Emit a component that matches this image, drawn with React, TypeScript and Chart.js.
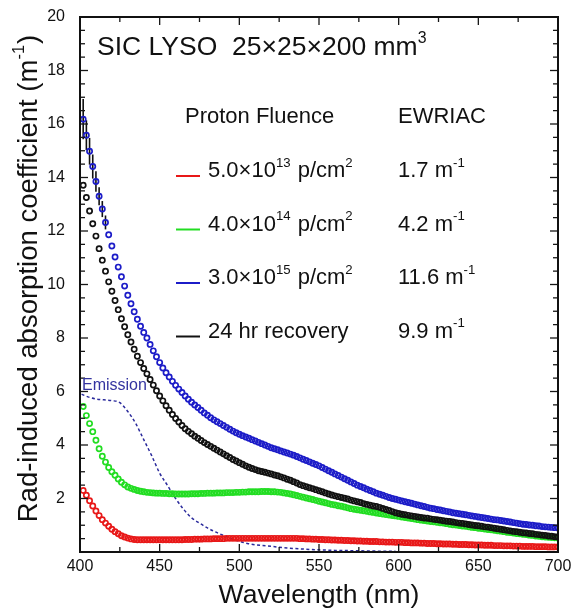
import { useEffect, useRef } from "react";
import { Chart, registerables } from "chart.js";

Chart.register(...registerables);

const FONT = "'Liberation Sans', Arial, Helvetica, sans-serif";

// Wavelength grid (nm) of the measured points
const wavelengths = [
  402, 404, 406, 408, 410, 412, 414, 416, 418, 420,
  422, 424, 426, 428, 430, 432, 434, 436, 438, 440,
  442, 444, 446, 448, 450, 452, 454, 456, 458, 460,
  462, 464, 466, 468, 470, 472, 474, 476, 478, 480,
  482, 484, 486, 488, 490, 492, 494, 496, 498, 500,
  502, 504, 506, 508, 510, 512, 514, 516, 518, 520,
  522, 524, 526, 528, 530, 532, 534, 536, 538, 540,
  542, 544, 546, 548, 550, 552, 554, 556, 558, 560,
  562, 564, 566, 568, 570, 572, 574, 576, 578, 580,
  582, 584, 586, 588, 590, 592, 594, 596, 598, 600,
  602, 604, 606, 608, 610, 612, 614, 616, 618, 620,
  622, 624, 626, 628, 630, 632, 634, 636, 638, 640,
  642, 644, 646, 648, 650, 652, 654, 656, 658, 660,
  662, 664, 666, 668, 670, 672, 674, 676, 678, 680,
  682, 684, 686, 688, 690, 692, 694, 696, 698, 700,
];

// 5.0e13 p/cm2
const redRIAC = [
  2.30, 2.12, 1.92, 1.72, 1.53, 1.36, 1.21, 1.08, 0.96, 0.85,
  0.76, 0.68, 0.61, 0.56, 0.52, 0.49, 0.47, 0.46, 0.46, 0.46,
  0.46, 0.46, 0.46, 0.46, 0.46, 0.46, 0.46, 0.46, 0.46, 0.46,
  0.46, 0.46, 0.47, 0.47, 0.47, 0.48, 0.48, 0.48, 0.49, 0.49,
  0.49, 0.50, 0.50, 0.50, 0.50, 0.51, 0.51, 0.51, 0.51, 0.51,
  0.51, 0.51, 0.51, 0.51, 0.51, 0.51, 0.51, 0.51, 0.51, 0.51,
  0.51, 0.51, 0.51, 0.51, 0.51, 0.51, 0.51, 0.51, 0.50, 0.50,
  0.49, 0.49, 0.48, 0.48, 0.47, 0.47, 0.46, 0.46, 0.45, 0.45,
  0.44, 0.44, 0.43, 0.43, 0.42, 0.42, 0.41, 0.41, 0.40, 0.40,
  0.39, 0.39, 0.39, 0.38, 0.38, 0.37, 0.37, 0.37, 0.36, 0.36,
  0.36, 0.35, 0.35, 0.34, 0.34, 0.34, 0.33, 0.33, 0.32, 0.32,
  0.32, 0.31, 0.31, 0.30, 0.30, 0.30, 0.29, 0.29, 0.28, 0.28,
  0.28, 0.27, 0.27, 0.26, 0.26, 0.26, 0.25, 0.25, 0.25, 0.24,
  0.24, 0.24, 0.23, 0.23, 0.23, 0.22, 0.22, 0.22, 0.21, 0.21,
  0.21, 0.21, 0.20, 0.20, 0.20, 0.20, 0.19, 0.19, 0.19, 0.19,
];

// 4.0e14 p/cm2
const greenRIAC = [
  5.44, 5.10, 4.80, 4.50, 4.18, 3.86, 3.58, 3.36, 3.16, 3.00,
  2.87, 2.73, 2.61, 2.51, 2.43, 2.38, 2.34, 2.30, 2.27, 2.25,
  2.23, 2.22, 2.21, 2.20, 2.20, 2.19, 2.19, 2.18, 2.18, 2.17,
  2.17, 2.17, 2.17, 2.17, 2.18, 2.18, 2.18, 2.19, 2.19, 2.20,
  2.20, 2.20, 2.21, 2.21, 2.21, 2.22, 2.22, 2.22, 2.23, 2.23,
  2.24, 2.24, 2.25, 2.25, 2.25, 2.25, 2.26, 2.26, 2.26, 2.25,
  2.25, 2.24, 2.23, 2.21, 2.19, 2.17, 2.14, 2.11, 2.08, 2.05,
  2.02, 1.99, 1.96, 1.93, 1.90, 1.87, 1.84, 1.81, 1.78, 1.76,
  1.73, 1.71, 1.68, 1.65, 1.62, 1.60, 1.58, 1.56, 1.54, 1.52,
  1.50, 1.48, 1.46, 1.44, 1.42, 1.40, 1.38, 1.36, 1.35, 1.33,
  1.31, 1.29, 1.27, 1.25, 1.23, 1.21, 1.19, 1.18, 1.16, 1.14,
  1.13, 1.11, 1.09, 1.08, 1.06, 1.04, 1.02, 1.01, 0.99, 0.97,
  0.96, 0.94, 0.92, 0.91, 0.89, 0.88, 0.86, 0.84, 0.83, 0.81,
  0.79, 0.78, 0.76, 0.74, 0.73, 0.71, 0.69, 0.68, 0.66, 0.65,
  0.63, 0.62, 0.60, 0.59, 0.57, 0.56, 0.55, 0.54, 0.53, 0.52,
];

// 3.0e15 p/cm2
const blueRIAC = [
  16.18, 15.58, 14.98, 14.41, 13.85, 13.30, 12.82, 12.32, 11.86, 11.44,
  11.03, 10.65, 10.29, 9.94, 9.60, 9.28, 8.98, 8.70, 8.44, 8.21,
  8.00, 7.76, 7.52, 7.30, 7.08, 6.88, 6.70, 6.54, 6.38, 6.23,
  6.09, 5.96, 5.83, 5.71, 5.60, 5.50, 5.40, 5.30, 5.20, 5.11,
  5.02, 4.94, 4.87, 4.80, 4.73, 4.66, 4.59, 4.52, 4.46, 4.40,
  4.35, 4.30, 4.25, 4.20, 4.15, 4.10, 4.05, 4.00, 3.95, 3.90,
  3.86, 3.82, 3.78, 3.74, 3.70, 3.66, 3.62, 3.57, 3.52, 3.47,
  3.42, 3.37, 3.32, 3.27, 3.22, 3.16, 3.10, 3.04, 2.98, 2.92,
  2.86, 2.80, 2.74, 2.68, 2.62, 2.56, 2.50, 2.45, 2.40, 2.35,
  2.30, 2.25, 2.20, 2.16, 2.12, 2.08, 2.04, 2.00, 1.97, 1.94,
  1.91, 1.88, 1.85, 1.82, 1.79, 1.76, 1.73, 1.70, 1.67, 1.64,
  1.62, 1.59, 1.57, 1.54, 1.52, 1.50, 1.47, 1.45, 1.43, 1.41,
  1.39, 1.37, 1.35, 1.33, 1.31, 1.29, 1.27, 1.25, 1.23, 1.21,
  1.20, 1.18, 1.16, 1.14, 1.12, 1.10, 1.08, 1.06, 1.04, 1.03,
  1.01, 1.00, 0.98, 0.97, 0.95, 0.94, 0.93, 0.92, 0.91, 0.90,
];
// error bar half-lengths of the first blue points
const blueErr = [0.75, 0.56, 0.5, 0.45, 0.38, 0.34, 0.3, 0.26];

// 24 hr recovery
const blackRIAC = [
  13.71, 13.25, 12.75, 12.27, 11.81, 11.34, 10.91, 10.50, 10.10, 9.75,
  9.40, 9.06, 8.72, 8.42, 8.12, 7.85, 7.58, 7.32, 7.08, 6.86,
  6.66, 6.45, 6.24, 6.03, 5.83, 5.65, 5.47, 5.30, 5.14, 4.99,
  4.86, 4.73, 4.61, 4.51, 4.42, 4.33, 4.25, 4.17, 4.09, 4.02,
  3.95, 3.88, 3.81, 3.74, 3.67, 3.60, 3.53, 3.46, 3.40, 3.34,
  3.28, 3.22, 3.17, 3.12, 3.08, 3.04, 3.01, 2.98, 2.95, 2.92,
  2.88, 2.85, 2.81, 2.77, 2.72, 2.68, 2.63, 2.58, 2.52, 2.48,
  2.44, 2.40, 2.37, 2.33, 2.29, 2.25, 2.21, 2.17, 2.13, 2.10,
  2.07, 2.04, 2.01, 1.98, 1.94, 1.91, 1.88, 1.85, 1.81, 1.78,
  1.75, 1.72, 1.70, 1.67, 1.63, 1.59, 1.55, 1.51, 1.47, 1.44,
  1.41, 1.39, 1.37, 1.35, 1.33, 1.31, 1.29, 1.27, 1.26, 1.24,
  1.22, 1.21, 1.19, 1.17, 1.15, 1.14, 1.12, 1.10, 1.08, 1.07,
  1.05, 1.03, 1.01, 0.99, 0.98, 0.96, 0.94, 0.93, 0.91, 0.89,
  0.87, 0.85, 0.83, 0.81, 0.79, 0.77, 0.76, 0.74, 0.72, 0.71,
  0.69, 0.68, 0.66, 0.65, 0.63, 0.62, 0.60, 0.59, 0.57, 0.56,
];

// LYSO emission spectrum (arbitrary scale)
const emissionWl = [
  401, 405, 410, 415, 420, 425, 430, 435, 440, 445, 450, 455, 460, 465, 470,
  475, 480, 485, 490, 495, 500, 505, 510, 520, 530, 540, 550, 560, 570, 580, 590, 598,
];
const emissionVal = [
  5.90, 5.80, 5.72, 5.69, 5.66, 5.58, 5.25, 4.80, 4.20, 3.60, 2.95, 2.48, 2.00, 1.60, 1.28,
  1.08, 0.90, 0.75, 0.62, 0.50, 0.40, 0.32, 0.27, 0.21, 0.15, 0.11, 0.08, 0.06, 0.05, 0.04, 0.03, 0.03,
];

const seriesColors = ["#e81818", "#22dd22", "#1c1cc8", "#111111"];
const fluenceMantissa = ["5.0", "4.0", "3.0"];
const fluenceExponent = ["13", "14", "15"];
const recoveryLabel = "24 hr recovery";
const ewriacValues = ["1.7", "4.2", "11.6", "9.9"];

const xMajorTicks = [400, 450, 500, 550, 600, 650, 700];
const xMinorTicks = [425, 475, 525, 575, 625, 675];

type Run = { t: string; sup?: boolean };

function runsWidth(ctx: CanvasRenderingContext2D, runs: Run[], size: number) {
  let w = 0;
  for (const r of runs) {
    ctx.font = `${r.sup ? size * 0.6 : size}px ${FONT}`;
    w += ctx.measureText(r.t).width;
  }
  return w;
}

function drawRuns(ctx: CanvasRenderingContext2D, x: number, y: number, runs: Run[], size: number) {
  let cx = x;
  for (const r of runs) {
    const s = r.sup ? size * 0.6 : size;
    ctx.font = `${s}px ${FONT}`;
    ctx.fillText(r.t, cx, r.sup ? y - size * 0.46 : y);
    cx += ctx.measureText(r.t).width + (r.sup ? 1 : 0);
  }
}

const decorPlugin = {
  id: "decor",
  beforeDatasetsDraw(chart: any) {
    const ctx: CanvasRenderingContext2D = chart.ctx;
    const xs = chart.scales.x;
    const ys = chart.scales.y;
    ctx.save();
    ctx.strokeStyle = "#111";
    ctx.lineWidth = 1.6;
    blueErr.forEach((e, i) => {
      const px = xs.getPixelForValue(wavelengths[i]);
      ctx.beginPath();
      ctx.moveTo(px, ys.getPixelForValue(blueRIAC[i] + e));
      ctx.lineTo(px, ys.getPixelForValue(blueRIAC[i] - e));
      ctx.stroke();
    });
    ctx.restore();
  },
  afterDatasetsDraw(chart: any) {
    const ctx: CanvasRenderingContext2D = chart.ctx;
    const { left, right, top, bottom } = chart.chartArea;
    const xs = chart.scales.x;
    const ys = chart.scales.y;
    ctx.save();
    ctx.strokeStyle = "#161616";
    ctx.lineWidth = 1.3;
    const tick = (x1: number, y1: number, x2: number, y2: number) => {
      ctx.beginPath();
      ctx.moveTo(x1, y1);
      ctx.lineTo(x2, y2);
      ctx.stroke();
    };
    for (const v of xMajorTicks) {
      const p = xs.getPixelForValue(v);
      tick(p, bottom, p, bottom - 8);
      tick(p, top, p, top + 8);
    }
    for (const v of xMinorTicks) {
      const p = xs.getPixelForValue(v);
      tick(p, bottom, p, bottom - 5);
      tick(p, top, p, top + 5);
    }
    for (let k = 1; k < 40; k++) {
      const v = k * 0.5;
      const p = ys.getPixelForValue(v);
      const len = k % 4 === 0 ? 8 : 5;
      tick(left, p, left + len, p);
      tick(right, p, right - len, p);
    }
    ctx.lineWidth = 2;
    ctx.strokeStyle = "#111";
    ctx.strokeRect(left, top, right - left, bottom - top);
    ctx.restore();
  },
  afterDraw(chart: any) {
    const ctx: CanvasRenderingContext2D = chart.ctx;
    const { left, right } = chart.chartArea;
    ctx.save();
    ctx.textAlign = "left";
    ctx.textBaseline = "alphabetic";
    ctx.fillStyle = "#111";

    drawRuns(ctx, 97, 55, [{ t: "SIC LYSO  25×25×200 mm" }, { t: "3", sup: true }], 26.5);
    drawRuns(ctx, 185, 123, [{ t: "Proton Fluence" }], 22);
    drawRuns(ctx, 398, 123, [{ t: "EWRIAC" }], 22);

    const baselines = [177, 230.5, 284, 337.5];
    baselines.forEach((b, i) => {
      ctx.strokeStyle = seriesColors[i];
      ctx.lineWidth = 2;
      ctx.beginPath();
      ctx.moveTo(176, b - 1);
      ctx.lineTo(200, b - 1);
      ctx.stroke();
      ctx.fillStyle = "#111";
      const runs: Run[] =
        i < 3
          ? [
              { t: `${fluenceMantissa[i]}×10` },
              { t: fluenceExponent[i], sup: true },
              { t: " p/cm" },
              { t: "2", sup: true },
            ]
          : [{ t: recoveryLabel }];
      drawRuns(ctx, 208, b, runs, 22);
      drawRuns(ctx, 398, b, [{ t: `${ewriacValues[i]} m` }, { t: "-1", sup: true }], 22);
    });

    ctx.fillStyle = "#3434a0";
    drawRuns(ctx, 82, 389.5, [{ t: "Emission" }], 16);

    ctx.fillStyle = "#111";
    const xt: Run[] = [{ t: "Wavelength (nm)" }];
    const xw = runsWidth(ctx, xt, 26.5);
    drawRuns(ctx, (left + right) / 2 - xw / 2, 603, xt, 26.5);

    const yt: Run[] = [
      { t: "Rad-induced absorption coefficient (m" },
      { t: "-1", sup: true },
      { t: ")" },
    ];
    const yw = runsWidth(ctx, yt, 27.5);
    ctx.translate(37, 279);
    ctx.rotate(-Math.PI / 2);
    drawRuns(ctx, -yw / 2, 0, yt, 27.5);
    ctx.restore();
  },
};

function pointSet(values: number[], color: string) {
  return {
    data: wavelengths.map((x, i) => ({ x, y: values[i] })),
    showLine: false,
    borderColor: color,
    backgroundColor: "rgba(0,0,0,0)",
    pointBorderColor: color,
    pointBackgroundColor: "rgba(0,0,0,0)",
    pointRadius: 2.6,
    pointBorderWidth: 1.7,
    pointHoverRadius: 2.6,
  };
}

export default function App() {
  const canvasRef = useRef<HTMLCanvasElement | null>(null);

  useEffect(() => {
    const canvas = canvasRef.current;
    if (!canvas) return;
    const chart = new Chart(canvas, {
      type: "scatter",
      data: {
        datasets: [
          pointSet(blackRIAC, seriesColors[3]),
          pointSet(blueRIAC, seriesColors[2]),
          pointSet(greenRIAC, seriesColors[1]),
          pointSet(redRIAC, seriesColors[0]),
          {
            data: emissionWl.map((x, i) => ({ x, y: emissionVal[i] })),
            showLine: true,
            borderColor: "#2b2b9c",
            borderWidth: 1.5,
            borderDash: [3, 2.5],
            pointRadius: 0,
            cubicInterpolationMode: "monotone",
          } as any,
        ],
      },
      options: {
        responsive: false,
        animation: false,
        devicePixelRatio: 1,
        layout: { padding: { top: 17, right: 13, left: 0, bottom: 0 } },
        plugins: { legend: { display: false }, tooltip: { enabled: false } },
        events: [],
        scales: {
          x: {
            type: "linear",
            min: 400,
            max: 700,
            grid: { display: false },
            border: { display: false },
            ticks: {
              stepSize: 50,
              autoSkip: false,
              maxRotation: 0,
              padding: -3,
              color: "#111",
              font: { family: FONT, size: 16 },
            },
            afterFit: (s: any) => {
              s.height = 60;
            },
          },
          y: {
            min: 0,
            max: 20,
            grid: { display: false },
            border: { display: false },
            ticks: {
              stepSize: 2,
              padding: 7,
              color: "#111",
              font: { family: FONT, size: 16 },
              callback: (v: any) => (v === 0 ? "" : String(v)),
            },
            afterFit: (s: any) => {
              s.width = 80;
            },
          },
        },
      } as any,
      plugins: [decorPlugin],
    });
    return () => chart.destroy();
  }, []);

  return (
    <div style={{ position: "absolute", left: 0, top: 0, width: 571, height: 612, background: "#fff" }}>
      <canvas ref={canvasRef} width={571} height={612} />
    </div>
  );
}
